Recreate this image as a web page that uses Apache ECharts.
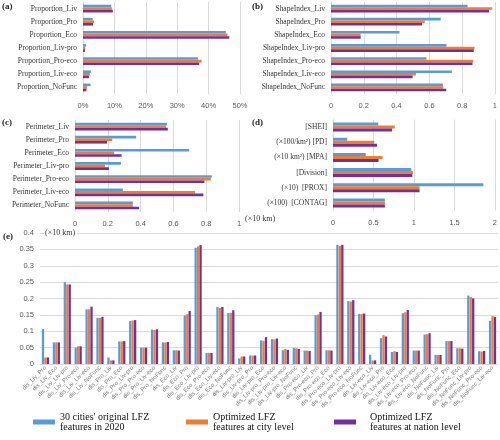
<!DOCTYPE html>
<html><head><meta charset="utf-8">
<script src="https://cdn.jsdelivr.net/npm/echarts@6/dist/echarts.min.js"></script>
<style>html,body{margin:0;padding:0;background:#fff}#c{width:500px;height:440px}</style>
</head><body><div id="c"></div><script>
const seriesNames = ["30 cities' original LFZ\nfeatures in 2020", "Optimized LFZ\nfeatures at city level", "Optimized LFZ\nfeatures at nation level"];
const colors = ['#5B9BD5', '#ED7D31', '#7030A0'];

// (a) Proportion (%)
const propCats = ['Proportion_Liv','Proportion_Pro','Proportion_Eco','Proportion_Liv-pro','Proportion_Pro-eco','Proportion_Liv-eco','Proportion_NoFunc'];
const propOrig = [9.0, 3.1, 45.5, 1.0, 36.6, 2.5, 2.4];
const propCity = [9.2, 3.5, 46.0, 0.75, 37.8, 2.2, 1.3];
const propNation = [9.5, 3.2, 46.6, 0.65, 37.0, 1.9, 1.1];
const propTicks = [0, 50, 10];

// (b) Shape index
const shapeCats = ['ShapeIndex_Liv','ShapeIndex_Pro','ShapeIndex_Eco','ShapeIndex_Liv-pro','ShapeIndex_Pro-eco','ShapeIndex_Liv-eco','ShapeIndex_NoFunc'];
const shapeOrig = [0.833, 0.669, 0.418, 0.705, 0.582, 0.737, 0.683];
const shapeCity = [0.984, 0.572, 0.181, 0.876, 0.867, 0.518, 0.685];
const shapeNation = [0.964, 0.556, 0.181, 0.871, 0.863, 0.498, 0.703];
const shapeTicks = [0, 1, 0.2];

// (c) Perimeter (x10 km)
const periCats = ['Perimeter_Liv','Perimeter_Pro','Perimeter_Eco','Perimeter_Liv-pro','Perimeter_Pro-eco','Perimeter_Liv-eco','Perimeter_NoFunc'];
const periOrig = [0.560, 0.373, 0.696, 0.280, 0.834, 0.292, 0.353];
const periCity = [0.556, 0.227, 0.239, 0.183, 0.828, 0.732, 0.353];
const periNation = [0.566, 0.195, 0.284, 0.207, 0.789, 0.783, 0.391];
const periTicks = [0, 1, 0.2];

// (d) Landscape metrics
const landCats = ['[SHEI]','(\u00d7100/km\u00b2) [PD]','(\u00d710 km\u00b2) [MPA]','[Division]','(\u00d710)  [PROX]','(\u00d7100)  [CONTAG]'];
const landOrig = [0.559, 0.176, 0.404, 0.967, 1.857, 0.641];
const landCity = [0.763, 0.510, 0.612, 0.988, 1.069, 0.641];
const landNation = [0.730, 0.543, 0.563, 0.980, 1.069, 0.641];
const landTicks = [0, 2, 0.5];

// (e) Distances (x10 km)
const distCats = [
 'dis_Liv_Pro','dis_Liv_Eco','dis_Liv_Liv-pro','dis_Liv_Pro-eco','dis_Liv_Liv-eco','dis_Liv_NoFunc',
 'dis_Pro_Liv','dis_Pro_Eco','dis_Pro_Liv-pro','dis_Pro_Pro-eco','dis_Pro_Liv-eco','dis_Pro_NoFunc',
 'dis_Eco_Liv','dis_Eco_Pro','dis_Eco_Liv-pro','dis_Eco_Pro-eco','dis_Eco_Liv-eco','dis_Eco_NoFunc',
 'dis_Liv-pro_Liv','dis_Liv-pro_Pro','dis_Liv-pro_Eco','dis_Liv-pro_Pro-eco','dis_Liv-pro_Liv-eco','dis_Liv-pro_NoFunc',
 'dis_Pro-eco_Liv','dis_Pro-eco_Pro','dis_Pro-eco_Eco','dis_Pro-eco_Liv-pro','dis_Pro-eco_Liv-eco','dis_Pro-eco_NoFunc',
 'dis_Liv-eco_Liv','dis_Liv-eco_Pro','dis_Liv-eco_Eco','dis_Liv-eco_Liv-pro','dis_Liv-eco_Pro-eco','dis_Liv-eco_NoFunc',
 'dis_NoFunc_Liv','dis_NoFunc_Pro','dis_NoFunc_Eco','dis_NoFunc_Liv-pro','dis_NoFunc_Pro-eco','dis_NoFunc_Liv-eco'];
const distOrig = [0.107,0.066,0.250,0.050,0.167,0.141, 0.020,0.069,0.131,0.050,0.105,0.066, 0.042,0.148,0.355,0.034,0.174,0.156, 0.017,0.026,0.072,0.076,0.042,0.049, 0.041,0.149,0.042,0.364,0.192,0.153, 0.028,0.079,0.037,0.155,0.041,0.090, 0.028,0.070,0.048,0.209,0.039,0.132];
const distCity = [0.020,0.066,0.243,0.054,0.167,0.141, 0.011,0.069,0.133,0.050,0.104,0.066, 0.042,0.152,0.359,0.034,0.171,0.156, 0.023,0.026,0.071,0.075,0.046,0.048, 0.041,0.151,0.042,0.361,0.191,0.153, 0.011,0.088,0.039,0.158,0.041,0.091, 0.028,0.070,0.048,0.205,0.038,0.146];
const distNation = [0.020,0.066,0.243,0.054,0.175,0.144, 0.011,0.070,0.134,0.050,0.106,0.067, 0.041,0.162,0.363,0.034,0.174,0.164, 0.023,0.026,0.082,0.078,0.043,0.046, 0.040,0.159,0.041,0.364,0.195,0.154, 0.011,0.084,0.037,0.165,0.041,0.094, 0.028,0.070,0.047,0.200,0.040,0.144];
const distTicks = [0, 0.4, 0.05];

const SERIF = '"Liberation Serif","Times New Roman",serif';
const SANS = '"Liberation Sans",Arial,sans-serif';
const gridColor = '#d9d9d9';
const tickColor = '#595959';

const hPanels = [
  {cats: propCats, d: [propOrig, propCity, propNation], t: propTicks, grid: {left: 83, top: 2, width: 157, height: 92}, fmt: '{value}%'},
  {cats: shapeCats, d: [shapeOrig, shapeCity, shapeNation], t: shapeTicks, grid: {left: 331, top: 2, width: 166, height: 92}},
  {cats: periCats, d: [periOrig, periCity, periNation], t: periTicks, grid: {left: 75, top: 120, width: 164, height: 92}},
  {cats: landCats, d: [landOrig, landCity, landNation], t: landTicks, grid: {left: 333, top: 119.5, width: 163, height: 91}}
];

const grids = [], xAxes = [], yAxes = [], series = [];
hPanels.forEach((p, i) => {
  grids.push(p.grid);
  xAxes.push({
    gridIndex: i, type: 'value', min: p.t[0], max: p.t[1], interval: p.t[2],
    axisLine: {show: false}, axisTick: {show: false},
    splitLine: {lineStyle: {color: gridColor, width: 1}},
    axisLabel: {color: tickColor, fontFamily: SANS, fontSize: 7.5, margin: 8, formatter: p.fmt || function (v) { return String(+v.toFixed(2)); }}
  });
  yAxes.push({
    gridIndex: i, type: 'category', data: p.cats, inverse: true,
    axisLine: {show: true, lineStyle: {color: gridColor}}, axisTick: {show: false},
    axisLabel: {color: '#333', fontFamily: SERIF, fontSize: 7.5, margin: 6}
  });
  p.d.forEach((arr, k) => {
    series.push({
      type: 'bar', name: seriesNames[k], xAxisIndex: i, yAxisIndex: i, data: arr,
      itemStyle: {color: colors[k]}, barGap: '0%', barCategoryGap: '41%', silent: true
    });
  });
});

grids.push({left: 40, top: 233, width: 458, height: 131});
xAxes.push({
  gridIndex: 4, type: 'category', data: distCats,
  axisLine: {show: true, lineStyle: {color: gridColor}}, axisTick: {show: false},
  axisLabel: {interval: 0, rotate: 45, color: '#7f7f7f', fontFamily: SANS, fontSize: 6, margin: 3}
});
yAxes.push({
  gridIndex: 4, type: 'value', min: distTicks[0], max: distTicks[1], interval: distTicks[2],
  axisLine: {show: false}, axisTick: {show: false},
  splitLine: {lineStyle: {color: gridColor}},
  axisLabel: {color: tickColor, fontFamily: SANS, fontSize: 7.5, margin: 6}
});
[distOrig, distCity, distNation].forEach((arr, k) => {
  series.push({
    type: 'bar', name: seriesNames[k], xAxisIndex: 4, yAxisIndex: 4, data: arr,
    itemStyle: {color: colors[k]}, barGap: '8%', barCategoryGap: '34%', silent: true
  });
});

const legendPos = [33, 186, 334];
const legendTextPad = [0, 0, 9];
const legends = seriesNames.map((n, k) => ({
  data: [n], left: legendPos[k], top: 412, icon: 'rect', itemWidth: 22, itemHeight: 5, itemGap: 0,
  selectedMode: false, padding: 0,
  textStyle: {fontFamily: SERIF, fontSize: 10, lineHeight: 10, color: '#111', padding: [0, 0, 0, legendTextPad[k]]}
}));

const titleStyle = {fontFamily: SERIF, fontSize: 9, fontWeight: 'bold', fill: '#222'};
const graphics = [
  {type: 'text', left: 2, top: 2, style: Object.assign({text: '(a)'}, titleStyle)},
  {type: 'text', left: 252, top: 2, style: Object.assign({text: '(b)'}, titleStyle)},
  {type: 'text', left: 2, top: 118, style: Object.assign({text: '(c)'}, titleStyle)},
  {type: 'text', left: 252, top: 118, style: Object.assign({text: '(d)'}, titleStyle)},
  {type: 'text', left: 3, top: 232, style: Object.assign({text: '(e)'}, titleStyle)},
  {type: 'text', left: 245, top: 214.5, style: {text: '(\u00d710 km)', fontFamily: SERIF, fontSize: 8, fill: '#333'}},
  {type: 'text', left: 44, top: 228.5, z: 10, style: {text: '(\u00d710 km)', fontFamily: SERIF, fontSize: 8, fill: '#333', backgroundColor: '#fff', padding: [0, 2, 0, 1]}}
];

const chart = echarts.init(document.getElementById('c'), null, {renderer: 'canvas'});
chart.setOption({
  animation: false,
  grid: grids, xAxis: xAxes, yAxis: yAxes, series: series,
  legend: legends, graphic: graphics
});
</script></body></html>
